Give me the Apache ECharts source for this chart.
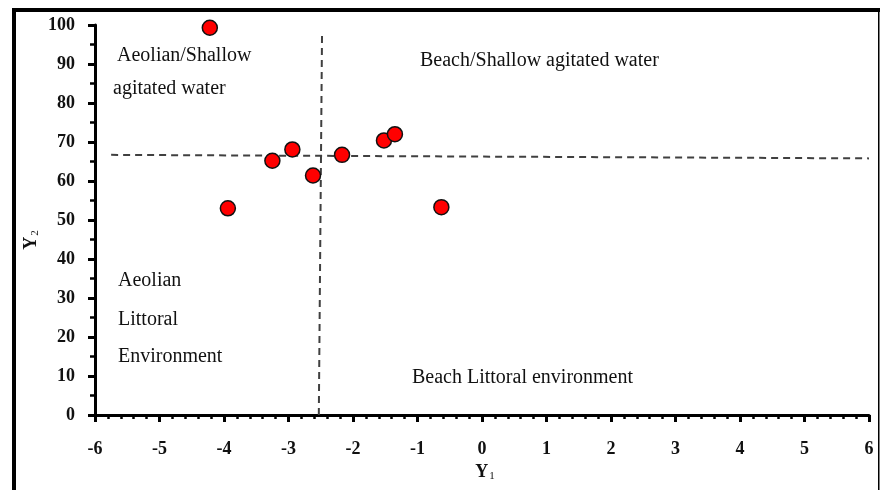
<!DOCTYPE html>
<html>
<head>
<meta charset="utf-8">
<script src="https://cdn.jsdelivr.net/npm/echarts@6/dist/echarts.min.js"></script>
<style>
  html, body { margin: 0; padding: 0; background: #fff; }
  #chart { width: 881px; height: 490px; }
</style>
</head>
<body>
<div id="chart"></div>
<script>
// Discriminant function scores of the samples
const y1Values = [-4.22, -3.94, -3.25, -2.94, -2.62, -2.17, -1.52, -1.35, -0.63];
const y2Values = [99.3, 53.0, 65.2, 68.1, 61.4, 66.7, 70.4, 72.0, 53.3];

// Boundary lines separating the environments
const boundaryY1 = [[-5.75, 66.7], [6.0, 65.8]];
const boundaryY2 = [[-2.53, 0], [-2.48, 98]];

// Axis ranges
const xRange = [-6, 6];
const yRange = [0, 100];

const points = y1Values.map((v, i) => [v, y2Values[i]]);

const serif = '"Liberation Serif", "DejaVu Serif", serif';

const chart = echarts.init(document.getElementById('chart'), null, { renderer: 'canvas' });

// annotation text, positioned by its left edge and vertical middle
function label(text, x, y) {
  return {
    type: 'text', x: x, y: y,
    style: { text: text, font: '20px ' + serif, fill: '#111', align: 'left', verticalAlign: 'middle' }
  };
}

// axis title with a subscript index
function axisTitle(main, sub, x, y, rotation) {
  return {
    type: 'text', x: x, y: y, rotation: rotation,
    style: {
      text: '{m|' + main + '}{s|' + sub + '}',
      align: 'center', verticalAlign: 'middle', fill: '#111',
      rich: {
        m: { fontFamily: serif, fontWeight: 'bold', fontSize: 18, lineHeight: 20, fill: '#111' },
        s: { fontFamily: serif, fontSize: 11, lineHeight: 20, fill: '#111', padding: [9, 0, 0, 1] }
      }
    }
  };
}

chart.setOption({
  animation: false,
  backgroundColor: '#fff',
  grid: { left: 95, right: 12, top: 25, bottom: 75 },
  xAxis: {
    type: 'value', min: xRange[0], max: xRange[1], interval: 1,
    axisLine: { onZero: false, lineStyle: { color: '#000', width: 3 } },
    axisTick: { inside: false, length: 7, lineStyle: { color: '#000', width: 3 } },
    minorTick: { show: true, splitNumber: 5, length: 4, lineStyle: { color: '#000', width: 2.5 } },
    axisLabel: { margin: 25, fontFamily: serif, fontWeight: 'bold', fontSize: 18, color: '#111' },
    splitLine: { show: false }
  },
  yAxis: {
    type: 'value', min: yRange[0], max: yRange[1], interval: 10,
    axisLine: { onZero: false, lineStyle: { color: '#000', width: 3 } },
    axisTick: { inside: false, length: 7, lineStyle: { color: '#000', width: 3 } },
    minorTick: { show: true, splitNumber: 2, length: 5, lineStyle: { color: '#000', width: 2.5 } },
    axisLabel: { margin: 20, fontFamily: serif, fontWeight: 'bold', fontSize: 18, color: '#111' },
    splitLine: { show: false }
  },
  series: [
    {
      type: 'line', data: boundaryY1, symbol: 'none', silent: true,
      lineStyle: { color: '#404040', width: 2, type: [7, 5] }, z: 1
    },
    {
      type: 'line', data: boundaryY2, symbol: 'none', silent: true,
      lineStyle: { color: '#404040', width: 2, type: [7, 5] }, z: 1
    },
    {
      type: 'scatter', data: points, symbol: 'circle', symbolSize: 15,
      itemStyle: { color: '#ff0000', borderColor: '#111', borderWidth: 1.5, opacity: 1 }, z: 3
    }
  ],
  graphic: [
    // figure frame
    { type: 'rect', shape: { x: 12, y: 8, width: 4, height: 490 }, style: { fill: '#000' } },
    { type: 'rect', shape: { x: 12, y: 8, width: 868, height: 4 }, style: { fill: '#000' } },
    { type: 'rect', shape: { x: 878, y: 8, width: 1.5, height: 490 }, style: { fill: '#000' } },
    // axis titles
    axisTitle('Y', '1', 485, 472, 0),
    axisTitle('Y', '2', 31, 240, Math.PI / 2),
    // environment annotations
    label('Aeolian/Shallow', 117, 56),
    label('agitated water', 113, 89),
    label('Beach/Shallow agitated water', 420, 61),
    label('Aeolian', 118, 281),
    label('Littoral', 118, 320),
    label('Environment', 118, 357),
    label('Beach Littoral environment', 412, 378)
  ]
});
</script>
</body>
</html>
